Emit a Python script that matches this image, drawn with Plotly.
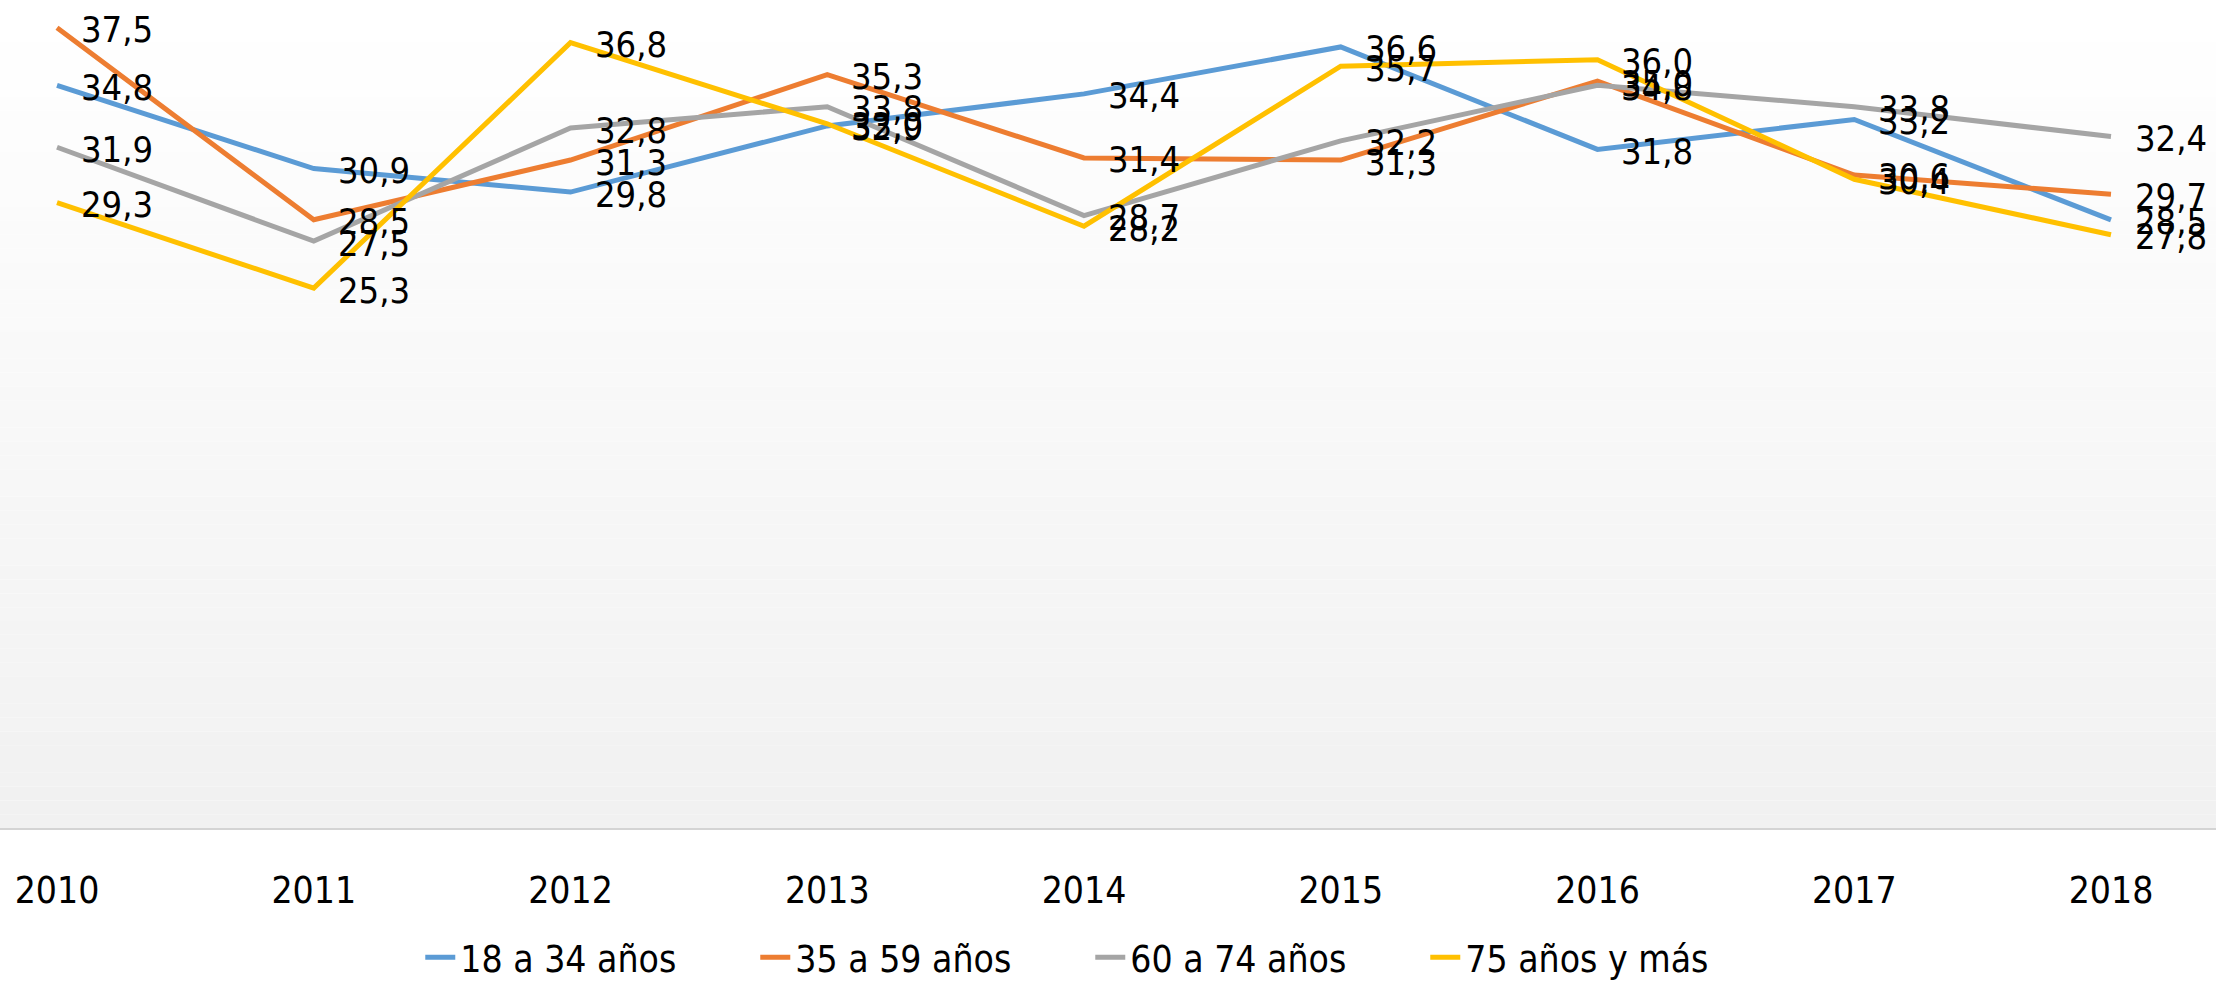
import plotly.graph_objects as go

years = ["2010", "2011", "2012", "2013", "2014", "2015", "2016", "2017", "2018"]
series_names = ["18 a 34 años", "35 a 59 años", "60 a 74 años", "75 años y más"]
s_18_34 = [34.8, 30.9, 29.8, 32.9, 34.4, 36.6, 31.8, 33.2, 28.5]
s_35_59 = [37.5, 28.5, 31.3, 35.3, 31.4, 31.3, 35.0, 30.6, 29.7]
s_60_74 = [31.9, 27.5, 32.8, 33.8, 28.7, 32.2, 34.8, 33.8, 32.4]
s_75_mas = [29.3, 25.3, 36.8, 33.0, 28.2, 35.7, 36.0, 30.4, 27.8]
colors = ["#5B9BD5", "#ED7D31", "#A5A5A5", "#FFC000"]

FONT = "Liberation Sans Narrow, DejaVu Sans Condensed, sans-serif"
FS_LAB = 36
FS = 37
W, H = 2216, 989
PLOT_BOTTOM = 836

x_idx = list(range(len(years)))

fig = go.Figure()
all_series = [s_18_34, s_35_59, s_60_74, s_75_mas]
for name, vals, col in zip(series_names, all_series, colors):
    fig.add_trace(go.Scatter(
        x=x_idx, y=vals, name=name, mode="lines",
        line=dict(color=col, width=5),
    ))

annotations = []
for vals in all_series:
    for xi, v in zip(x_idx, vals):
        annotations.append(dict(
            x=xi, y=v, xref="x", yref="y",
            text=f"{v:.1f}".replace(".", ","),
            showarrow=False, xanchor="left", yanchor="middle",
            xshift=22, yshift=-2,
            font=dict(family=FONT, size=FS_LAB, color="#000000"),
        ))

# vertical gradient background for the plot area (light grey at bottom -> white at top)
shapes = []
n = 60
for i in range(n):
    t = i / (n - 1)
    c = int(round(255 - (255 - 241) * (1 - t)))
    shapes.append(dict(
        type="rect", xref="paper", yref="paper",
        x0=0, x1=1, y0=i / n, y1=(i + 1) / n,
        fillcolor=f"rgb({c},{c},{c})", line=dict(width=0), layer="below",
    ))

fig.update_layout(
    width=W, height=H,
    margin=dict(l=0, r=0, t=0, b=H - PLOT_BOTTOM),
    paper_bgcolor="#ffffff", plot_bgcolor="#ffffff",
    font=dict(family=FONT, size=FS, color="#000000"),
    showlegend=True,
    legend=dict(
        orientation="h", x=0.492, xanchor="center",
        y=-(967 - PLOT_BOTTOM) / PLOT_BOTTOM, yanchor="middle",
        font=dict(family=FONT, size=FS, color="#000000"),
        entrywidth=290, entrywidthmode="pixels",
        bgcolor="rgba(0,0,0,0)",
    ),
    annotations=annotations,
    shapes=shapes,
    xaxis=dict(
        range=[-0.222, 8.409],
        tickmode="array", tickvals=x_idx, ticktext=years,
        showgrid=False, zeroline=False,
        showline=True, linecolor="#d4d4d4", linewidth=2,
        ticks="outside", ticklen=29, tickcolor="rgba(0,0,0,0)",
        tickfont=dict(family=FONT, size=FS, color="#000000"),
    ),
    yaxis=dict(
        range=[0, 38.8], showticklabels=False, showgrid=False,
        zeroline=False, showline=False, ticks="",
    ),
)

fig.write_html(
    "out.html",
    config={"displayModeBar": False},
    post_script="document.body.style.margin='0px';document.body.style.overflow='hidden';",
)
